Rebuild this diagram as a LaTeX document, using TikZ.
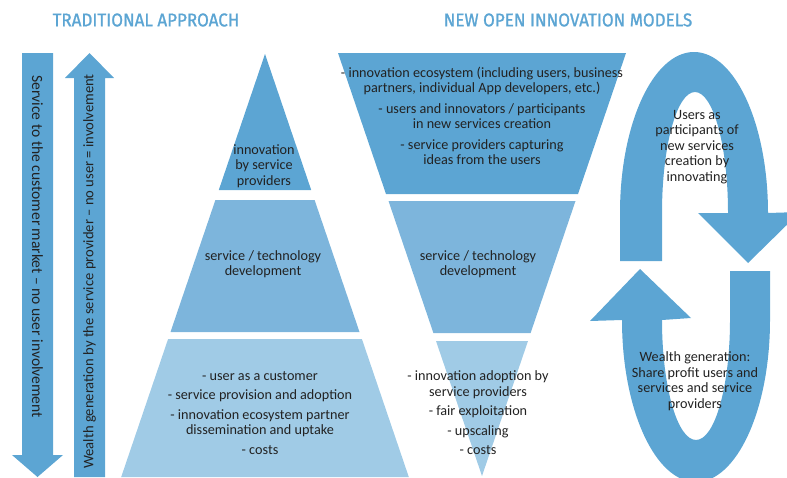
\documentclass[tikz,border=0pt]{standalone}
\usepackage{fontspec}
\setmainfont{Carlito}
\newfontfamily\headfont[FakeStretch=0.92, FakeBold=1.2]{Fira Sans}

\definecolor{oiblue}{RGB}{92,165,211}
\definecolor{segmid}{RGB}{125,181,220}
\definecolor{seglight}{RGB}{160,203,230}
\definecolor{textdark}{RGB}{34,34,34}

\newcommand{\segfont}{\fontsize{14.2}{15.5}\selectfont}
\newcommand{\downfont}{\fontsize{15.6}{17}\selectfont}
\newcommand{\upfont}{\fontsize{14.6}{16}\selectfont}

\tikzset{
    heading/.style={font=\headfont\fontsize{18.5}{20}\selectfont, text=oiblue, inner sep=0pt},
    seglabel/.style={align=center, font=\segfont, text=textdark, inner sep=0pt},
    sidelabel/.style={text=textdark, inner sep=0pt},
}

\begin{document}
\begin{tikzpicture}[x=1pt, y=-1pt]
    \useasboundingbox (0,0) rectangle (787,477);

    % Headings
    \node[heading] (trad) at (146,20) {TRADITIONAL APPROACH};
    \node[heading] (open) at (568,20) {NEW OPEN INNOVATION MODELS};

    % Vertical arrows on the left
    \fill[oiblue] (22,53) -- (53,53) -- (53,455) -- (63,455) -- (37.5,477) -- (12,455) -- (22,455) -- cycle;
    \fill[oiblue] (74,477) -- (74,78) -- (65,78) -- (89.5,53) -- (114,78) -- (105,78) -- (105,477) -- cycle;
    \node[sidelabel, font=\downfont, rotate=-90, anchor=west] (service) at (37.5,75) {Service to the customer market – no user involvement};
    \node[sidelabel, font=\upfont, rotate=90, anchor=west] (wealth) at (89.5,469) {Wealth generation by the service provider – no user = involvement};

    % Traditional pyramid
    \fill[oiblue] (265,54) -- (311.2,190) -- (218.8,190) -- cycle;
    \fill[segmid] (215.4,200) -- (314.6,200) -- (359.5,332) -- (170.5,332) -- cycle;
    \fill[seglight] (168.1,339) -- (361.9,339) -- (408.8,477) -- (121.2,477) -- cycle;

    \node[seglabel] (tradtop) at (264,166) {innovation\\by service\\providers};
    \node[seglabel] (tradmid) at (263,264) {service / technology\\development};
    \node[seglabel] (tradlow) at (260,413) {- user as a customer\\[4pt]
        - service provision and adoption\\[4pt]
        - innovation ecosystem partner\\dissemination and uptake\\[4pt]
        - costs};

    % Inverted pyramid
    \fill[oiblue] (338,53) -- (626,53) -- (578,194) -- (386,194) -- cycle;
    \fill[segmid] (388.5,201) -- (575.5,201) -- (530.6,333) -- (433.4,333) -- cycle;
    \fill[seglight] (436,341) -- (528,341) -- (482,476) -- cycle;

    \node[seglabel] (opentop) at (482,116) {- innovation ecosystem (including users, business\\partners, individual App developers, etc.)\\[5pt]
        - users and innovators / participants\\in new services creation\\[5pt]
        - service providers capturing\\ideas from the users};
    \node[seglabel] (openmid) at (478,264) {service / technology\\development};
    \node[seglabel] (openlow) at (478,413) {- innovation adoption by\\service providers\\[4pt]
        - fair exploitation\\[4pt]
        - upscaling\\[4pt]
        - costs};

    % Circular arrows
    \fill[oiblue] (620,261) -- (620,213) arc[start angle=180, end angle=360, x radius=74, y radius=161]
        -- (800,212) -- (748,263) -- (698,213) -- (728,213)
        arc[start angle=0, end angle=-180, x radius=33, y radius=121] -- (662,261) -- cycle;
    \fill[oiblue] (730,271) -- (770,271) -- (770,320) arc[start angle=0, end angle=180, x radius=74, y radius=162]
        -- (590,321) -- (640,269) -- (691,318) -- (662,320)
        arc[start angle=180, end angle=0, x radius=34, y radius=120] -- cycle;

    \node[seglabel] (users) at (697,147) {Users as\\participants of\\new services\\creation by\\innovating};
    \node[seglabel] (share) at (695,381) {Wealth generation:\\Share profit users and\\services and service\\providers};
\end{tikzpicture}
\end{document}
